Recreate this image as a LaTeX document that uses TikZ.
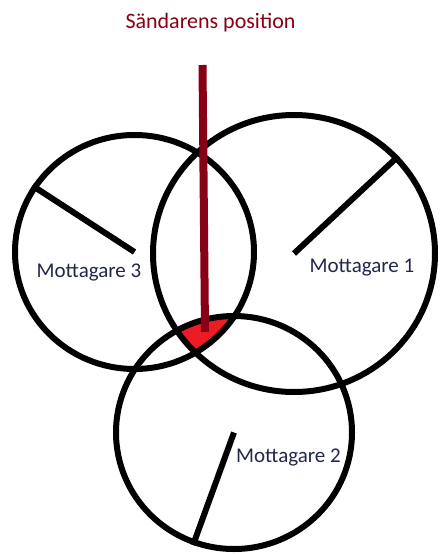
\documentclass[tikz,border=0pt]{standalone}
\usepackage{fontspec}
\setmainfont{Carlito}
\usetikzlibrary{shapes.geometric}
\definecolor{senderred}{RGB}{136,0,21}
\definecolor{zonered}{RGB}{237,28,36}
\definecolor{labelnavy}{RGB}{35,40,75}

\begin{document}
\begin{tikzpicture}[x=1pt, y=-1pt, every node/.style={font=\fontsize{21}{25}\selectfont}]
  \useasboundingbox (0,0) rectangle (440,554);
  % overlap of the three ranges
  \begin{scope}
    \clip (294,253.5) ellipse [x radius=141, y radius=138.5];
    \clip (134.5,252) ellipse [x radius=119.5, y radius=117];
    \fill[zonered] (234,432.5) ellipse [x radius=118, y radius=116.5];
  \end{scope}
  \foreach \n/\cx/\cy/\rx/\ry/\a in {1/294/253.5/141/138.5/43, 2/234/432.5/118/116.5/250, 3/134.5/252/119.5/117/147} {
    \node[draw, ellipse, line width=6pt, inner sep=0pt, minimum width=2*\rx, minimum height=2*\ry] (mot\n) at (\cx,\cy) {};
    \draw[line width=6pt] (mot\n.center) -- (mot\n.\a);
  }
  \node[text=labelnavy, anchor=base, inner sep=0pt] (lab1) at (362,272) {Mottagare 1};
  \node[text=labelnavy, anchor=base, inner sep=0pt] (lab2) at (288.5,462) {Mottagare 2};
  \node[text=labelnavy, anchor=base, inner sep=0pt] (lab3) at (89,277) {Mottagare 3};
  \node[text=senderred, anchor=base, inner sep=0pt, font=\fontsize{22}{26}\selectfont] (sender) at (210.5,28) {Sändarens position};
  \coordinate (top) at (202.5,65);
  \coordinate (pos) at (205,332);
  \draw[senderred, line width=8pt] (top) -- (pos);
\end{tikzpicture}
\end{document}
